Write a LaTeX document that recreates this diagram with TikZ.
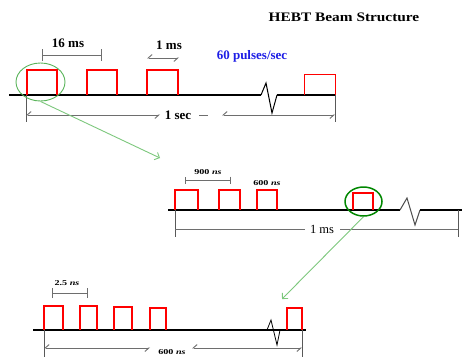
\documentclass[tikz,border=0pt]{standalone}
\usepackage{fontspec}
\setmainfont{Liberation Serif}
\usetikzlibrary{positioning,arrows.meta,shapes.geometric}
\definecolor{ppsblue}{RGB}{30,30,230}
\definecolor{ringlight}{RGB}{90,180,90}
\definecolor{ringdark}{RGB}{0,135,0}
\definecolor{zoomgreen}{RGB}{125,200,125}
\definecolor{dimgray}{RGB}{110,110,110}
\newcommand{\nsunit}{\textit{ns}}
\tikzset{
  every node/.style={inner sep=0pt},
  axisline/.style={line width=2.4pt},
  breakline/.style={line width=1pt},
  pulse/.style={draw=red, line width=1.8pt},
  dimline/.style={draw=dimgray, line width=0.9pt},
  extline/.style={draw=black!65, line width=0.9pt},
  harp/.style={arrows={{Straight Barb[harpoon,swap,length=4pt,width=7pt]}-{Straight Barb[harpoon,swap,length=4pt,width=7pt]}}},
  heading/.style={font=\bfseries\fontsize{13}{15}\selectfont, xscale=1.18},
  boldlbl/.style={font=\bfseries\fontsize{13}{15}\selectfont},
  plainlbl/.style={font=\fontsize{12.5}{14}\selectfont},
  smalllbl/.style={font=\bfseries\fontsize{7.5}{9}\selectfont, xscale=1.35},
  zoomring/.style={ellipse, draw, inner sep=0pt},
  zoomarrow/.style={draw=zoomgreen, line width=0.9pt, -{Straight Barb[length=4pt,width=8pt]}}
}
\begin{document}
\begin{tikzpicture}[x=1pt,y=-1pt]
  \fill[white] (0,0) rectangle (462,360);
  \useasboundingbox (0,0) rectangle (462,360);

  \node[heading] (title) at (344,17) {HEBT Beam Structure};

  % 60 pulses per second
  \draw[axisline] (9,95) -- (261,95);
  \draw[breakline] (261,95) -- (266,83) -- (272,113) -- (277,95);
  \draw[axisline] (277,95) -- (336,95);
  \foreach \a/\b in {27/57,87/117,147/178}
    \draw[pulse] (\a,95) |- (\b,70) -- (\b,95);
  \draw[pulse, line width=1pt] (304,95) |- (335,74) -- (335,95);

  \draw[dimline, {Bar[width=12pt]}-{Bar[width=12pt]}] (42,55) -- (102,55);
  \node[boldlbl] (T16) at (68,43) {16 ms};
  \draw[dimline, harp] (147,58) -- (179,58);
  \node[boldlbl] (T1ms) at (169,45) {1 ms};
  \node[boldlbl, text=ppsblue] (Tpps) at (252,56) {60 pulses/sec};

  \draw[extline] (26,95) -- (26,122);
  \draw[extline] (335,95) -- (335,122);
  \node[boldlbl] (Tsec) at (178,115) {1 sec};
  \draw[dimline, harp] (26,115) -- (160,115);
  \draw[dimline] (199,115) -- (208,115);
  \draw[dimline, harp] (222,115) -- (335,115);

  \node[zoomring, draw=ringlight, line width=0.9pt, minimum width=49pt, minimum height=38pt] (R1) at (40.5,82) {};
  \coordinate (Z1) at (160,158);
  \draw[zoomarrow] (R1.south) -- (Z1);

  % one pulse, 1 ms long
  \draw[axisline, line width=2pt] (168,210) -- (400,210);
  \draw[breakline, draw=black!70] (400,210) -- (407,198) -- (415,225) -- (420,210);
  \draw[axisline, line width=2pt] (420,210) -- (462,210);
  \foreach \a/\b in {175/198,219/240,257/277}
    \draw[pulse, line width=1.5pt] (\a,210) |- (\b,190) -- (\b,210);
  \draw[pulse, line width=1.3pt] (353,210) |- (373,193) -- (373,210);

  \draw[dimline, {Bar[width=7pt]}-{Bar[width=7pt]}] (185,180) -- (231,180);
  \node[smalllbl] (T900) at (208,172) {900 \nsunit};
  \node[smalllbl] (T600a) at (267,183) {600 \nsunit};

  \draw[extline] (175,210) -- (175,237);
  \draw[extline] (458,210) -- (458,237);
  \node[plainlbl] (Tms) at (322,229) {1 ms};
  \draw[dimline] (175,229) -- (305,229);
  \draw[dimline] (340,229) -- (458,229);

  \node[zoomring, draw=ringdark, line width=1.5pt, minimum width=37pt, minimum height=29pt] (R2) at (363.5,201.5) {};
  \coordinate (Z2) at (282,299);
  \draw[zoomarrow] (R2.south) -- (Z2);

  % micro pulses, 600 ns long
  \draw[axisline, line width=2.2pt] (33,330) -- (306,330);
  \draw[breakline, line width=0.8pt] (267,330) -- (271,320) -- (277,345) -- (280,330);
  \foreach \a/\b/\c in {44/63/306,80/97/306,114/132/307,150/166/308,287/302/308}
    \draw[pulse, line width=2.4pt] (\a,330) |- (\b,\c) -- (\b,330);

  \draw[dimline, {Bar[width=10pt]}-{Bar[width=10pt]}] (52,293) -- (88,293);
  \node[smalllbl] (T25) at (67,283) {2.5 \nsunit};

  \draw[extline] (44,330) -- (44,357);
  \draw[extline] (302,330) -- (302,357);
  \node[smalllbl] (T600b) at (172,352) {600 \nsunit};
  \draw[dimline, harp] (44,348) -- (150,348);
  \draw[dimline, harp] (192,348) -- (302,348);
\end{tikzpicture}
\end{document}
